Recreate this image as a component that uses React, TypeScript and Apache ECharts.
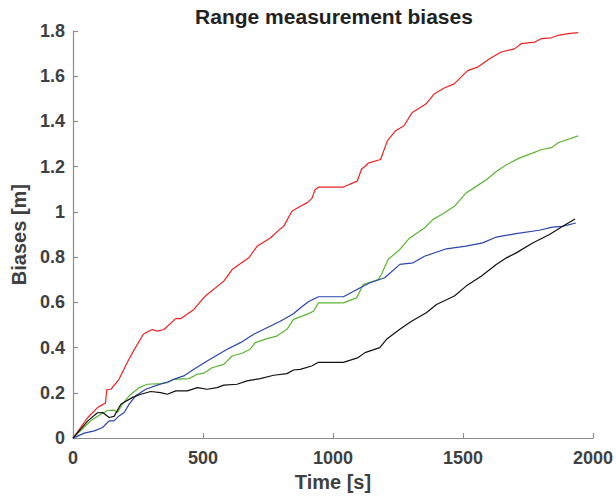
import React, { useEffect, useRef } from "react";
import * as echarts from "echarts";

const xTicks = [0, 500, 1000, 1500, 2000];
const yTicks = [0, 0.2, 0.4, 0.6, 0.8, 1, 1.2, 1.4, 1.6, 1.8];

const redT = [0, 56, 94, 114, 125, 130, 146, 177, 209, 235, 271, 305, 324, 350, 395, 414, 465, 503, 516, 580, 612, 676, 708, 759, 797, 810, 842, 874, 900, 919, 931, 945, 1040, 1093, 1110, 1125, 1135, 1183, 1209, 1241, 1273, 1305, 1357, 1389, 1428, 1466, 1518, 1556, 1602, 1647, 1698, 1724, 1776, 1801, 1840, 1866, 1904, 1943];
const redV = [0, 0.09, 0.135, 0.148, 0.155, 0.215, 0.216, 0.26, 0.335, 0.39, 0.46, 0.48, 0.473, 0.48, 0.528, 0.528, 0.569, 0.621, 0.635, 0.694, 0.745, 0.797, 0.848, 0.885, 0.925, 0.936, 1.003, 1.025, 1.04, 1.06, 1.098, 1.11, 1.11, 1.136, 1.19, 1.203, 1.216, 1.232, 1.314, 1.359, 1.381, 1.44, 1.477, 1.521, 1.548, 1.566, 1.625, 1.64, 1.677, 1.707, 1.721, 1.744, 1.751, 1.766, 1.77, 1.781, 1.788, 1.793];

const greenT = [0, 69, 107, 133, 158, 171, 190, 216, 254, 286, 337, 363, 388, 446, 478, 503, 535, 580, 612, 650, 682, 701, 746, 784, 823, 848, 899, 925, 944, 1040, 1091, 1116, 1174, 1186, 1212, 1257, 1295, 1352, 1384, 1429, 1467, 1512, 1551, 1590, 1628, 1667, 1716, 1767, 1800, 1840, 1866, 1943];
const greenV = [0, 0.078, 0.105, 0.122, 0.124, 0.113, 0.15, 0.187, 0.223, 0.238, 0.241, 0.245, 0.26, 0.263, 0.282, 0.287, 0.311, 0.326, 0.363, 0.375, 0.393, 0.422, 0.44, 0.451, 0.481, 0.525, 0.547, 0.561, 0.598, 0.598, 0.62, 0.679, 0.701, 0.723, 0.79, 0.834, 0.885, 0.929, 0.966, 0.996, 1.025, 1.084, 1.113, 1.142, 1.179, 1.209, 1.238, 1.26, 1.275, 1.284, 1.306, 1.336];

const blueT = [0, 43, 82, 114, 139, 158, 177, 197, 216, 241, 280, 324, 363, 395, 426, 465, 516, 593, 644, 695, 746, 797, 848, 874, 905, 944, 1040, 1103, 1142, 1199, 1257, 1308, 1352, 1436, 1512, 1576, 1628, 1704, 1793, 1844, 1882, 1934];
const blueV = [0, 0.022, 0.032, 0.047, 0.076, 0.076, 0.098, 0.113, 0.15, 0.187, 0.216, 0.234, 0.248, 0.263, 0.275, 0.304, 0.341, 0.393, 0.422, 0.459, 0.488, 0.517, 0.55, 0.575, 0.603, 0.625, 0.625, 0.664, 0.687, 0.709, 0.768, 0.775, 0.804, 0.837, 0.849, 0.863, 0.889, 0.904, 0.919, 0.933, 0.936, 0.951];

const blackT = [0, 56, 94, 114, 139, 158, 184, 229, 261, 299, 337, 363, 395, 440, 478, 516, 554, 580, 631, 669, 720, 772, 823, 848, 874, 918, 944, 1040, 1097, 1123, 1180, 1206, 1257, 1302, 1359, 1398, 1467, 1512, 1570, 1628, 1667, 1705, 1768, 1833, 1882, 1931];
const blackV = [0, 0.075, 0.112, 0.113, 0.091, 0.096, 0.15, 0.18, 0.194, 0.206, 0.201, 0.194, 0.209, 0.209, 0.223, 0.216, 0.223, 0.234, 0.238, 0.253, 0.263, 0.278, 0.285, 0.301, 0.304, 0.319, 0.335, 0.335, 0.356, 0.378, 0.4, 0.437, 0.481, 0.517, 0.554, 0.591, 0.628, 0.672, 0.716, 0.768, 0.797, 0.819, 0.863, 0.9, 0.936, 0.969];

const FONT = "'Liberation Sans', Arial, Helvetica, sans-serif";

function pairs(t: number[], v: number[]) {
  return t.map((x, i) => [x, v[i]]);
}

export default function App() {
  const ref = useRef<HTMLDivElement>(null);
  useEffect(() => {
    if (!ref.current) return;
    const chart = echarts.init(ref.current, null, { renderer: "svg" });
    const axisCommon = {
      axisLine: { show: true, lineStyle: { color: "#8c8c8c", width: 1.2 } },
      axisTick: { show: true, inside: true, length: 5, lineStyle: { color: "#8c8c8c", width: 1.2 } },
      splitLine: { show: false },
      nameTextStyle: { fontFamily: FONT, fontWeight: "bold", fontSize: 20, color: "#404040" },
    };
    const mk = (name: string, t: number[], v: number[], color: string) => ({
      name,
      type: "line",
      data: pairs(t, v),
      showSymbol: false,
      symbol: "none",
      lineStyle: { color, width: 1.2 },
      itemStyle: { color },
    });
    chart.setOption({
      animation: false,
      grid: { left: 73, right: 23, top: 31, bottom: 58, containLabel: false },
      graphic: [
        {
          type: "text",
          x: 334,
          y: 6,
          style: {
            text: "Range measurement biases",
            textAlign: "center",
            textVerticalAlign: "top",
            font: `bold 21px ${FONT}`,
            fill: "#222222",
          },
        },
      ],
      xAxis: {
        type: "value",
        min: xTicks[0],
        max: xTicks[xTicks.length - 1],
        interval: 500,
        name: "Time [s]",
        nameLocation: "middle",
        nameGap: 31,
        ...axisCommon,
        axisLabel: {
          fontFamily: FONT,
          fontWeight: "bold",
          fontSize: 18,
          color: "#404040",
          margin: 11,
          formatter: (val: number) => String(Math.round(val)),
        },
      },
      yAxis: {
        type: "value",
        min: yTicks[0],
        max: yTicks[yTicks.length - 1],
        interval: 0.2,
        name: "Biases [m]",
        nameLocation: "middle",
        nameGap: 40,
        ...axisCommon,
        axisLabel: {
          fontFamily: FONT,
          fontWeight: "bold",
          fontSize: 18,
          color: "#404040",
          margin: 8,
          formatter: (val: number) => String(Math.round(val * 10) / 10),
        },
      },
      series: [
        mk("red", redT, redV, "#ee2222"),
        mk("green", greenT, greenV, "#5cb531"),
        mk("blue", blueT, blueV, "#2a46ad"),
        mk("black", blackT, blackV, "#111111"),
      ],
    });
    return () => chart.dispose();
  }, []);
  return <div ref={ref} style={{ width: 616, height: 497, position: "absolute", left: 0, top: 0 }} />;
}
